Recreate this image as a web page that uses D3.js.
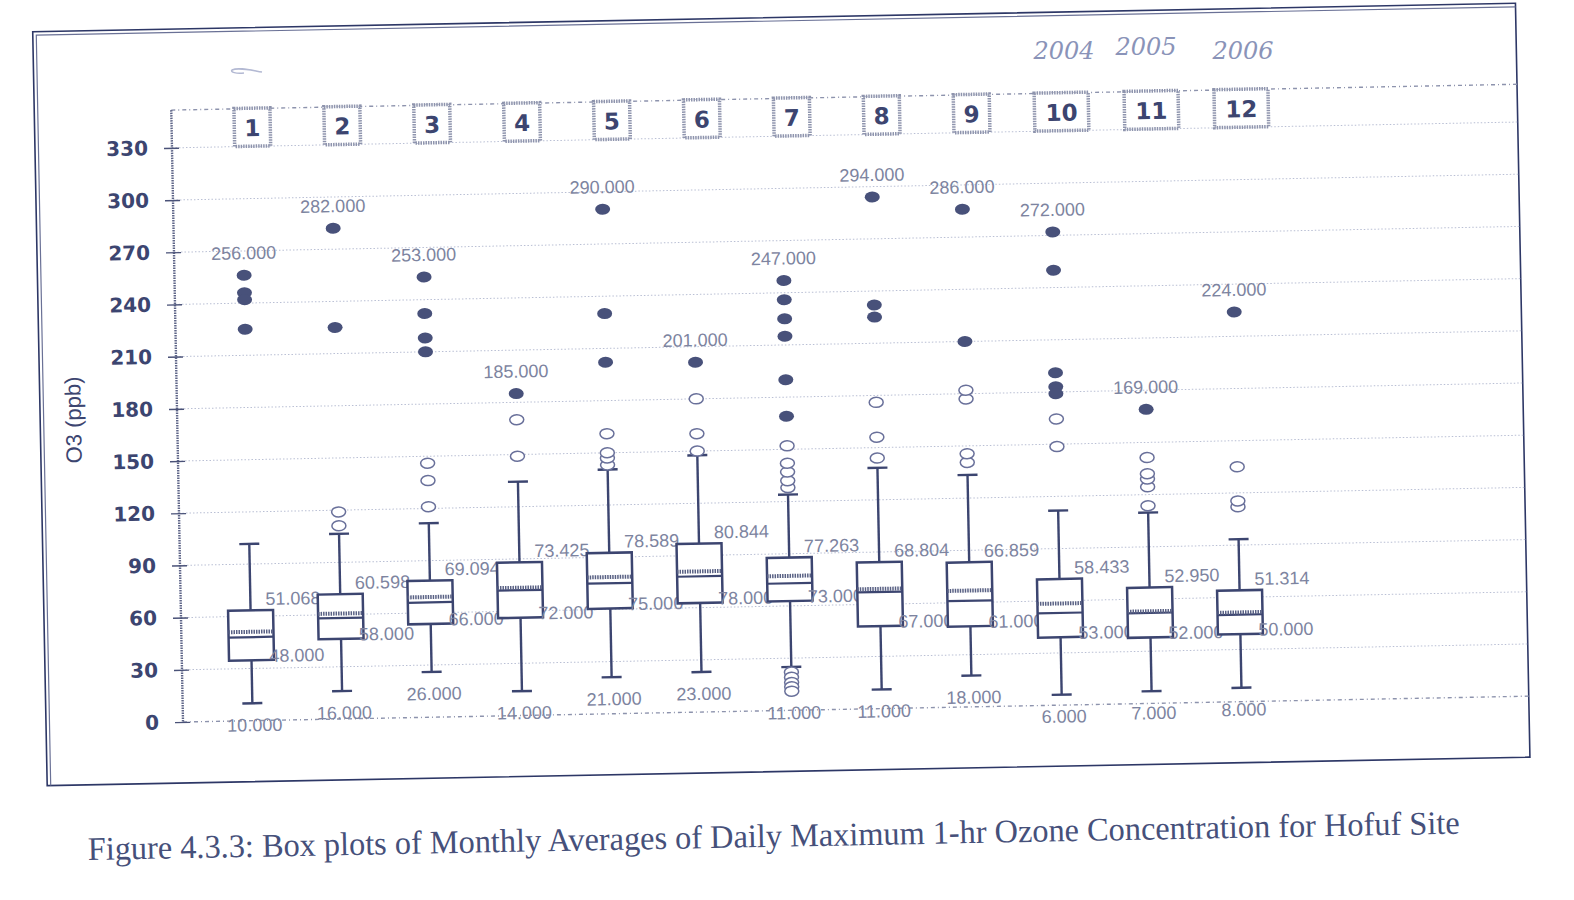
<!DOCTYPE html>
<html><head><meta charset="utf-8">
<script src="https://cdn.jsdelivr.net/npm/d3@7"></script>
<style>body{margin:0;background:#fff;} svg{display:block}</style>
</head><body>
<svg id="c" width="1574" height="900"></svg>
<script>
// ---- data ----
const months      = [1,2,3,4,5,6,7,8,9,10,11,12];
const whiskerLow  = [10,16,26,14,21,23,24.9,11,18,6,7,8];
const q1          = [34.7,46,53.6,56.2,60.5,62.7,62.8,47.4,46.3,39,37.9,38.8];
const medians     = [48,58,66,72,75,78,73,67,61,53,52,50];
const means       = [51.068,60.598,69.094,73.425,78.589,80.844,77.263,68.804,66.859,58.433,52.950,51.314];
const q3          = [63.4,71.7,78.5,88,92.5,96.8,87.8,84.2,83.1,72.5,66.6,64];
const whiskerHigh = [101.6,106.4,111.5,134.4,140.4,147.6,124,138.4,133.3,111.8,109.7,93.4];
const outliers    = [[],[111,119],[121,136,146],[149,170],[143,147,150,161],[150,160,180],
                     [128,132,137,142,152,22,19,16,13.5,11],[144,156,176],[140.5,145.5,177,182],
                     [148.6,164.5],[113.6,124.5,129,132,141.3],[112,115.4,135]];
const extremes    = [[256,246,242,225],[282,225],[253,232,218,210],[185],[290,230,202],[201],
                     [247,236,225,215,190,169],[294,232,225],[286,210],[272,250,191,183,179],[169],[224]];
const yTicks      = [0,30,60,90,120,150,180,210,240,270,300,330];
const yMax        = 351.7;
const headerValue = 341;
const yTitle      = "O3 (ppb)";
const caption     = "Figure 4.3.3: Box plots of Monthly Averages of Daily Maximum 1-hr Ozone Concentration for Hofuf Site";
const notes       = ["2004","2005","2006"];

// ---- layout ----
const navy = "#3c4570", light = "#7d84a0";
const svg = d3.select("#c");
const ox = 183, oy = 722, right = 1529;
const x = d3.scalePoint().domain(months).range([252.7, 1241.9]);
const y = d3.scaleLinear().domain([0, yMax]).range([oy, 110]);
const fmt = d3.format(".3f");
const boxW = 45, capW = 20;

const g = svg.append("g").attr("transform", `rotate(-1.1,${ox},${oy})`);

// frame
g.append("rect").attr("x",46).attr("y",29).attr("width",1483).attr("height",754)
  .attr("fill","none").attr("stroke","#2d3766").attr("stroke-width",1.6);
g.append("path").attr("d","M49.5,783 V32.5 H1529").attr("fill","none")
  .attr("stroke","#6a7196").attr("stroke-width",1.2);

// gridlines
g.append("g").selectAll("line").data(yTicks.filter(t=>t>0)).join("line")
  .attr("x1",ox).attr("x2",right).attr("y1",d=>y(d)).attr("y2",d=>y(d))
  .attr("stroke","#b9bfd4").attr("stroke-width",1).attr("stroke-dasharray","1.5,2");
// top & bottom dashed borders
[0, yMax].forEach(v=>{
  g.append("line").attr("x1",ox).attr("x2",right).attr("y1",y(v)).attr("y2",y(v))
    .attr("stroke","#8d93ad").attr("stroke-width",1.4).attr("stroke-dasharray","4,3,1,3");
});
// y axis
g.append("line").attr("x1",ox).attr("x2",ox).attr("y1",y(yMax)).attr("y2",y(0))
  .attr("stroke","#5e6588").attr("stroke-width",2.4).attr("stroke-dasharray","1.5,1");
const ax = g.append("g").attr("transform",`translate(${ox},0)`)
  .call(d3.axisLeft(y).tickValues(yTicks).tickSize(8).tickPadding(16));
ax.select(".domain").remove();
ax.selectAll(".tick line").attr("x1",-8).attr("x2",7).attr("stroke","#4a5278").attr("stroke-width",1.4);
ax.selectAll(".tick text").attr("fill",navy).attr("font-family","DejaVu Sans")
  .attr("font-weight","bold").attr("font-size",20);

// y title
g.append("text").attr("transform","translate(81,418) rotate(-90)").attr("text-anchor","middle")
  .attr("dominant-baseline","middle").attr("font-family","Liberation Sans").attr("font-size",22)
  .attr("fill",navy).text(yTitle);

// header number boxes
const hdr = g.append("g").selectAll("g").data(months).join("g")
  .attr("transform",d=>`translate(${x(d)+11},${y(headerValue)})`);
hdr.append("rect").attr("x",d=>d>9?-27:-18).attr("y",-19).attr("width",d=>d>9?54:36).attr("height",38)
  .attr("fill","#fff").attr("stroke","#8e94ad").attr("stroke-width",3.5).attr("stroke-dasharray","1.5,1");
hdr.append("text").attr("text-anchor","middle").attr("dominant-baseline","central").attr("y",1)
  .attr("font-family","DejaVu Sans").attr("font-weight","bold").attr("font-size",23)
  .attr("fill",navy).text(d=>d);

// boxes
const rows = months.map((m,i)=>({m, lo:whiskerLow[i], q1:q1[i], med:medians[i], mean:means[i], q3:q3[i],
  hi:whiskerHigh[i], out:outliers[i], ext:extremes[i],
  min:d3.min([whiskerLow[i], ...outliers[i], ...extremes[i]]),
  max:d3.max([whiskerHigh[i], ...outliers[i], ...extremes[i]])}));

const b = g.append("g").selectAll("g").data(rows).join("g").attr("transform",d=>`translate(${x(d.m)},0)`);
b.append("line").attr("x1",0).attr("x2",0).attr("y1",d=>y(d.hi)).attr("y2",d=>y(d.q3)).attr("stroke",navy).attr("stroke-width",2.4);
b.append("line").attr("x1",0).attr("x2",0).attr("y1",d=>y(d.q1)).attr("y2",d=>y(d.lo)).attr("stroke",navy).attr("stroke-width",2.4);
b.append("line").attr("x1",-capW/2).attr("x2",capW/2).attr("y1",d=>y(d.hi)).attr("y2",d=>y(d.hi)).attr("stroke",navy).attr("stroke-width",2.4);
b.append("line").attr("x1",-capW/2).attr("x2",capW/2).attr("y1",d=>y(d.lo)).attr("y2",d=>y(d.lo)).attr("stroke",navy).attr("stroke-width",2.4);
b.append("rect").attr("x",-boxW/2).attr("width",boxW).attr("y",d=>y(d.q3)).attr("height",d=>y(d.q1)-y(d.q3))
  .attr("fill","#fff").attr("stroke",navy).attr("stroke-width",2.5);
b.append("line").attr("x1",-boxW/2).attr("x2",boxW/2).attr("y1",d=>y(d.med)).attr("y2",d=>y(d.med)).attr("stroke",navy).attr("stroke-width",2.2);
b.append("line").attr("x1",-boxW/2).attr("x2",boxW/2).attr("y1",d=>y(d.mean)).attr("y2",d=>y(d.mean))
  .attr("stroke","#596184").attr("stroke-width",4).attr("stroke-dasharray","1.5,1");
// outliers
b.selectAll("ellipse.o").data(d=>d.out).join("ellipse").attr("class","o").attr("cx",0).attr("cy",v=>y(v))
  .attr("rx",7).attr("ry",5).attr("fill","#fff").attr("stroke","#69709a").attr("stroke-width",1.5);
b.selectAll("ellipse.e").data(d=>d.ext).join("ellipse").attr("class","e").attr("cx",0).attr("cy",v=>y(v))
  .attr("rx",7.5).attr("ry",5.5).attr("fill","#48517a");
// value labels
const lab = sel=>sel.attr("font-family","Liberation Sans").attr("font-size",18).attr("fill",light).attr("dominant-baseline","central");
lab(b.append("text").attr("x",15).attr("y",d=>y(d.q3)-11).text(d=>fmt(d.mean)));
lab(b.append("text").attr("x",18).attr("y",d=>y(d.q1)-4).text(d=>fmt(d.med)));
lab(b.append("text").attr("x",2).attr("text-anchor","middle").attr("y",d=>y(d.min)+22).text(d=>fmt(d.min)));
lab(b.append("text").attr("x",0).attr("text-anchor","middle").attr("y",d=>y(d.max)-22).text(d=>fmt(d.max)));

// caption (scanned page tilt)
svg.append("text").attr("x",88).attr("y",860).attr("transform","rotate(-1.1,88,860)")
  .attr("font-family","Liberation Serif").attr("font-size",33).attr("fill","#46507a")
  .attr("textLength",1372).attr("lengthAdjust","spacingAndGlyphs").text(caption);

// handwritten notes
const noteX = [1064,1146,1243], noteY=[59,55,59];
svg.append("g").selectAll("text").data(notes).join("text")
  .attr("x",(d,i)=>noteX[i]).attr("y",(d,i)=>noteY[i]).attr("text-anchor","middle")
  .attr("font-family","DejaVu Serif").attr("font-style","italic").attr("font-size",24)
  .attr("fill","#8a93b8").text(d=>d);
svg.append("path").attr("d","M262,72 C250,70 238,67 232,70 C230,72 236,74 244,73").attr("fill","none")
  .attr("stroke","#b3b9d3").attr("stroke-width",1.5);
</script>
</body></html>
